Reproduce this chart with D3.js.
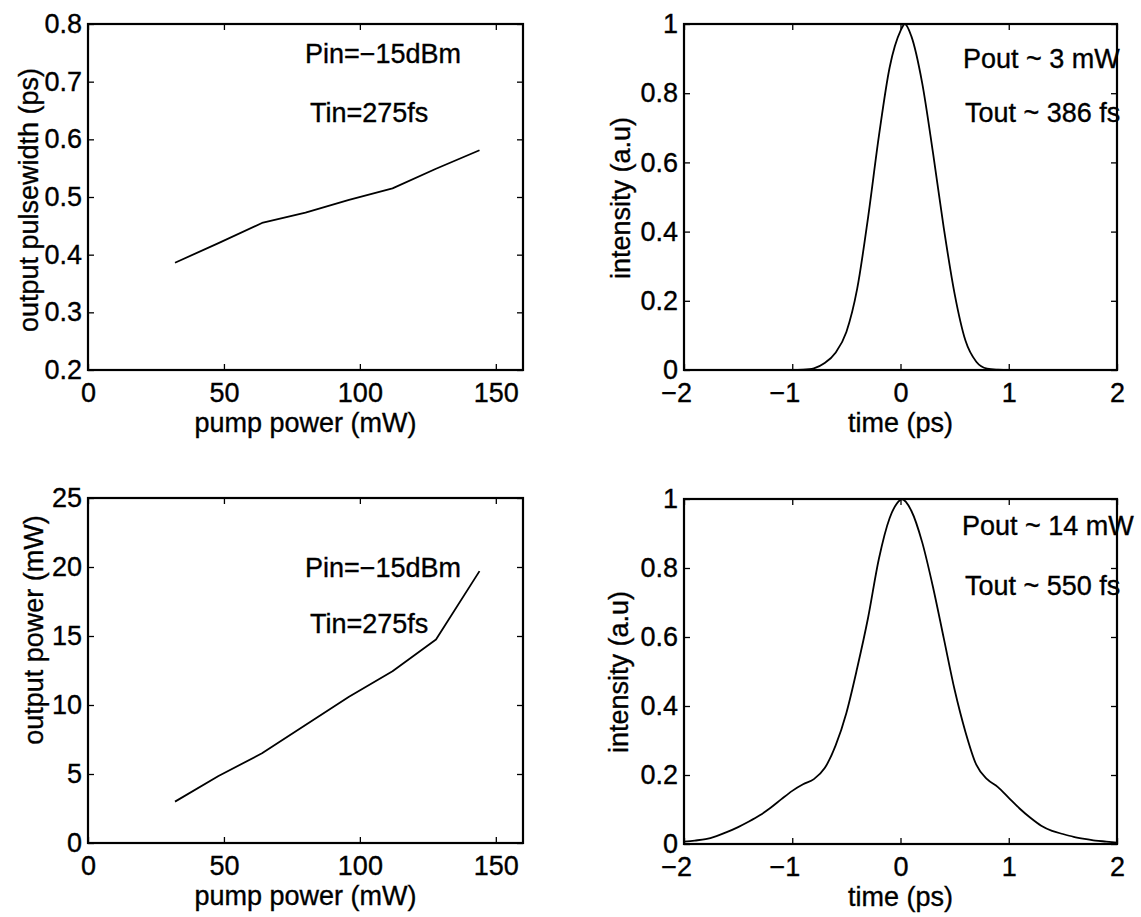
<!DOCTYPE html>
<html>
<head>
<meta charset="utf-8">
<script src="https://cdn.jsdelivr.net/npm/d3@7"></script>
<style>
  html, body { margin: 0; padding: 0; background: #fff; }
  svg { display: block; font-family: "Liberation Sans", Arial, Helvetica, sans-serif; }
  svg text { stroke: #000; stroke-width: 0.35px; }
</style>
</head>
<body>
<svg id="fig" width="1141" height="917"></svg>
<script>
// Pump-power sweep (Pin = -15 dBm, Tin = 275 fs)
const pumpPower   = [32, 48, 64, 80, 96, 112, 128, 144];                       // mW
const pulseWidth  = [0.386, 0.420, 0.455, 0.473, 0.495, 0.515, 0.549, 0.581];  // ps
const outputPower = [3.0, 4.85, 6.5, 8.55, 10.6, 12.45, 14.75, 19.7];          // mW

// Output pulse at low pump (Pout ~ 3 mW)
const shortTime = [-2.0, -1.5, -1.2, -1.0, -0.9, -0.8, -0.7, -0.6, -0.5, -0.4, -0.3, -0.2, -0.1,
                   0.0, 0.04, 0.1, 0.2, 0.3, 0.4, 0.5, 0.6, 0.7, 0.8, 0.9, 1.0, 1.5, 2.0];
const shortIntensity = [0, 0, 0, 0, 0.001, 0.005, 0.02, 0.05, 0.11, 0.235, 0.44, 0.675, 0.875,
                        0.98, 1.0, 0.965, 0.83, 0.628, 0.41, 0.22, 0.085, 0.024, 0.004, 0.001, 0, 0, 0];

// Output pulse at high pump (Pout ~ 14 mW)
const longTime = [-2.0, -1.9, -1.8, -1.7, -1.6, -1.5, -1.4, -1.3, -1.2, -1.1, -1.0, -0.9, -0.8,
                  -0.7, -0.6, -0.5, -0.4, -0.3, -0.2, -0.1, 0.0, 0.01, 0.1, 0.2, 0.3, 0.4, 0.5,
                  0.6, 0.7, 0.8, 0.9, 1.0, 1.1, 1.2, 1.3, 1.4, 1.5, 1.6, 1.7, 1.8, 1.9, 2.0];
const longIntensity = [0.007, 0.010, 0.014, 0.023, 0.035, 0.049, 0.065, 0.083, 0.105, 0.13, 0.154, 0.173, 0.188,
                       0.22, 0.285, 0.38, 0.51, 0.655, 0.826, 0.945, 0.998, 1.0, 0.966, 0.875, 0.745, 0.596, 0.447,
                       0.325, 0.23, 0.188, 0.165, 0.134, 0.103, 0.076, 0.053, 0.038, 0.029, 0.021, 0.015, 0.010, 0.007, 0.004];

// Axis ticks
const pumpTicks      = [0, 50, 100, 150];
const widthTicks     = [0.2, 0.3, 0.4, 0.5, 0.6, 0.7, 0.8];
const powerTicks     = [0, 5, 10, 15, 20, 25];
const timeTicks      = [-2, -1, 0, 1, 2];
const intensityTicks = [0, 0.2, 0.4, 0.6, 0.8, 1];

// Annotations
const sweepNotes = ["Pin=\u221215dBm", "Tin=275fs"];
const shortNotes = ["Pout ~ 3 mW", "Tout ~ 386 fs"];
const longNotes  = ["Pout ~ 14 mW", "Tout ~ 550 fs"];

const svg = d3.select("#fig");
svg.append("rect").attr("width", 1141).attr("height", 917).attr("fill", "#fff");

const fmtNum = d => String(d).replace("-", "\u2212");

function panel(o) {
  const x = d3.scaleLinear().domain(o.xDomain).range([o.left, o.right]);
  const y = d3.scaleLinear().domain(o.yDomain).range([o.bottom, o.top]);
  const g = svg.append("g");
  const TICK = 6;

  // data line
  const pts = o.xs.map((v, i) => [v, o.ys[i]]);
  const line = d3.line().x(d => x(d[0])).y(d => y(d[1]));
  if (o.smooth) line.curve(d3.curveMonotoneX);
  g.append("path").datum(pts)
    .attr("d", line)
    .attr("fill", "none").attr("stroke", "#000").attr("stroke-width", 1.8)
    .attr("stroke-linejoin", "round");

  // axes: labelled bottom/left, bare top/right, ticks pointing inward
  const styleAxis = sel => {
    sel.attr("font-size", null).attr("font-family", null);
    sel.select(".domain").remove();
    sel.selectAll(".tick line").attr("stroke", "#000").attr("stroke-width", 1.3);
    sel.selectAll(".tick text").attr("fill", "#000").attr("font-size", 27);
  };
  g.append("g").attr("transform", `translate(0,${o.bottom})`)
    .call(d3.axisBottom(x).tickValues(o.xTicks).tickFormat(o.xFmt)
      .tickSizeInner(-TICK).tickSizeOuter(0).tickPadding(13))
    .call(styleAxis)
    // keep the digits of negative labels on the tick, minus sign hanging left
    .selectAll(".tick text").attr("dx", d => d < 0 ? "-0.29em" : null);
  g.append("g").attr("transform", `translate(${o.left},0)`)
    .call(d3.axisLeft(y).tickValues(o.yTicks).tickFormat(o.yFmt)
      .tickSizeInner(-TICK).tickSizeOuter(0).tickPadding(6))
    .call(styleAxis);
  g.append("g").attr("transform", `translate(0,${o.top})`)
    .call(d3.axisTop(x).tickValues(o.xTicks).tickFormat("")
      .tickSizeInner(-TICK).tickSizeOuter(0))
    .call(styleAxis);
  g.append("g").attr("transform", `translate(${o.right},0)`)
    .call(d3.axisRight(y).tickValues(o.yTicks).tickFormat("")
      .tickSizeInner(-TICK).tickSizeOuter(0))
    .call(styleAxis);

  // frame
  g.append("rect")
    .attr("x", o.left).attr("y", o.top)
    .attr("width", o.right - o.left).attr("height", o.bottom - o.top)
    .attr("fill", "none").attr("stroke", "#000").attr("stroke-width", 2.2);

  // axis titles
  g.append("text")
    .attr("x", (o.left + o.right) / 2).attr("y", o.bottom + 62)
    .attr("text-anchor", "middle").attr("font-size", 27).attr("fill", "#000")
    .text(o.xLabel);
  g.append("text")
    .attr("transform", `translate(${o.yLabelX},${o.yLabelY}) rotate(-90)`)
    .attr("text-anchor", "middle").attr("font-size", 27).attr("fill", "#000")
    .text(o.yLabel);

  // annotations
  o.notes.forEach((t, i) => {
    g.append("text")
      .attr("x", o.noteX[i]).attr("y", o.noteY[i])
      .attr("font-size", 27).attr("fill", "#000")
      .text(t);
  });
}

// top left: output pulsewidth vs pump power
panel({
  left: 88, right: 523, top: 24, bottom: 370,
  xDomain: [0, 160], yDomain: [0.2, 0.8],
  xTicks: pumpTicks, yTicks: widthTicks,
  xFmt: fmtNum, yFmt: d3.format(".1f"),
  xs: pumpPower, ys: pulseWidth, smooth: false,
  xLabel: "pump power (mW)", yLabel: "output pulsewidth (ps)",
  yLabelX: 38, yLabelY: 200,
  notes: sweepNotes, noteX: [305, 310], noteY: [63, 122]
});

// top right: low-pump output pulse
panel({
  left: 684, right: 1117, top: 24, bottom: 370,
  xDomain: [-2, 2], yDomain: [0, 1],
  xTicks: timeTicks, yTicks: intensityTicks,
  xFmt: fmtNum, yFmt: fmtNum,
  xs: shortTime, ys: shortIntensity, smooth: true,
  xLabel: "time (ps)", yLabel: "intensity (a.u)",
  yLabelX: 630, yLabelY: 198,
  notes: shortNotes, noteX: [963, 965], noteY: [68, 122]
});

// bottom left: output power vs pump power
panel({
  left: 88, right: 523, top: 498, bottom: 843,
  xDomain: [0, 160], yDomain: [0, 25],
  xTicks: pumpTicks, yTicks: powerTicks,
  xFmt: fmtNum, yFmt: fmtNum,
  xs: pumpPower, ys: outputPower, smooth: false,
  xLabel: "pump power (mW)", yLabel: "output power (mW)",
  yLabelX: 43, yLabelY: 630,
  notes: sweepNotes, noteX: [305, 310], noteY: [577, 633]
});

// bottom right: high-pump output pulse
panel({
  left: 684, right: 1117, top: 499, bottom: 844,
  xDomain: [-2, 2], yDomain: [0, 1],
  xTicks: timeTicks, yTicks: intensityTicks,
  xFmt: fmtNum, yFmt: fmtNum,
  xs: longTime, ys: longIntensity, smooth: true,
  xLabel: "time (ps)", yLabel: "intensity (a.u)",
  yLabelX: 628, yLabelY: 672,
  notes: longNotes, noteX: [962, 965], noteY: [535, 595]
});
</script>
</body>
</html>
